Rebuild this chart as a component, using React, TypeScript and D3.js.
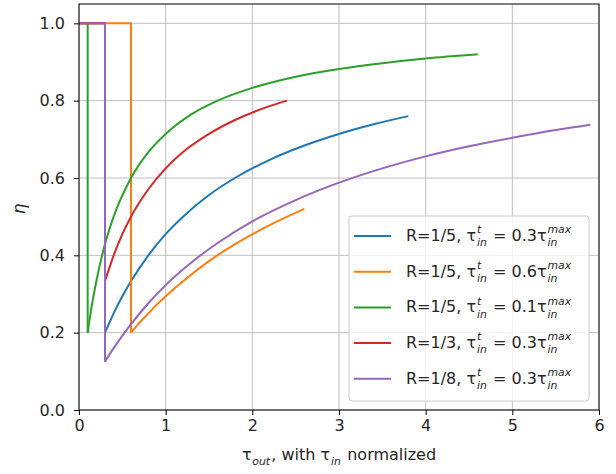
import React, { useEffect, useRef } from 'react';
import * as d3 from 'd3';

// [tau_out, eta] after the drop
const blueCurve: [number, number][] = [
  [0.3, 0.2], [0.4, 0.25], [0.5, 0.294], [0.6, 0.333], [0.8, 0.4], [1.0, 0.455], [1.2, 0.5],
  [1.5, 0.556], [1.8, 0.6], [2.2, 0.647], [2.6, 0.684], [3.0, 0.714], [3.4, 0.739], [3.8, 0.76],
];
const orangeCurve: [number, number][] = [
  [0.6, 0.2], [0.7, 0.226], [0.8, 0.25], [1.0, 0.294], [1.2, 0.333], [1.5, 0.385],
  [1.8, 0.429], [2.2, 0.478], [2.6, 0.52],
];
const greenCurve: [number, number][] = [
  [0.1, 0.2], [0.15, 0.273], [0.2, 0.333], [0.3, 0.429], [0.4, 0.5], [0.6, 0.6], [0.8, 0.667],
  [1.0, 0.714], [1.3, 0.765], [1.6, 0.8], [2.0, 0.833], [2.5, 0.862], [3.0, 0.882],
  [3.5, 0.897], [4.0, 0.909], [4.6, 0.92],
];
const redCurve: [number, number][] = [
  [0.3, 0.333], [0.4, 0.4], [0.5, 0.455], [0.6, 0.5], [0.8, 0.571], [1.0, 0.625],
  [1.2, 0.667], [1.5, 0.714], [1.8, 0.75], [2.1, 0.778], [2.4, 0.8],
];
const purpleCurve: [number, number][] = [
  [0.3, 0.125], [0.4, 0.16], [0.6, 0.222], [0.8, 0.276], [1.0, 0.323], [1.3, 0.382],
  [1.6, 0.432], [2.0, 0.488], [2.5, 0.543], [3.0, 0.588], [3.5, 0.625], [4.0, 0.656],
  [4.5, 0.682], [5.0, 0.704], [5.5, 0.724], [5.9, 0.738],
];

// R label, tau_in^t multiplier (step ends at this x with eta = 1)
const seriesR = ['1/5', '1/5', '1/5', '1/3', '1/8'];
const seriesTau = ['0.3', '0.6', '0.1', '0.3', '0.3'];
const seriesStep = [0.3, 0.6, 0.1, 0.3, 0.3];
const seriesCurves = [blueCurve, orangeCurve, greenCurve, redCurve, purpleCurve];
const colors = ['#1f77b4', '#ff7f0e', '#2ca02c', '#d62728', '#9467bd'];

const xTicks = [0, 1, 2, 3, 4, 5, 6];
const yTicks = [0, 0.2, 0.4, 0.6, 0.8, 1.0];

const FONT = '"DejaVu Sans", sans-serif';
const FS = 16;

type Piece = { t: string; sub?: string; sup?: string; italic?: boolean };

// lays out text with stacked sub/superscripts, returns total width
const drawMath = (g: any, pieces: Piece[], x: number, y: number, size: number) => {
  let cx = x;
  const small = size * 0.68;
  pieces.forEach((p) => {
    const t = g.append('text').attr('x', cx).attr('y', y)
      .attr('font-family', FONT).attr('font-size', size).attr('fill', '#262626')
      .style('white-space', 'pre')
      .style('font-style', p.italic ? 'italic' : 'normal').text(p.t);
    cx += (t.node() as SVGTextElement).getComputedTextLength();
    let w = 0;
    if (p.sub) {
      const s = g.append('text').attr('x', cx + 0.8).attr('y', y + size * 0.33)
        .attr('font-family', FONT).attr('font-size', small).attr('fill', '#262626')
        .style('font-style', 'italic').text(p.sub);
      w = Math.max(w, (s.node() as SVGTextElement).getComputedTextLength());
    }
    if (p.sup) {
      const s = g.append('text').attr('x', cx + 0.8).attr('y', y - size * 0.48)
        .attr('font-family', FONT).attr('font-size', small).attr('fill', '#262626')
        .style('font-style', 'italic').text(p.sup);
      w = Math.max(w, (s.node() as SVGTextElement).getComputedTextLength());
    }
    if (w > 0) cx += w + 2;
  });
  return cx - x;
};

const Chart = () => {
  const ref = useRef<SVGSVGElement>(null);

  useEffect(() => {
    const svg = d3.select(ref.current);
    svg.selectAll('*').remove();

    const margin = { top: 4, left: 79 };
    const width = 520;
    const height = 406;

    const x = d3.scaleLinear().domain([0, 6]).range([0, width]);
    const y = d3.scaleLinear().domain([0, 1.05]).range([height, 0]);

    const g = svg.append('g').attr('transform', `translate(${margin.left},${margin.top})`);

    // grid
    g.selectAll('.gx').data(xTicks).enter().append('line')
      .attr('x1', (d) => x(d)).attr('x2', (d) => x(d)).attr('y1', 0).attr('y2', height)
      .attr('stroke', '#b0b0b0').attr('stroke-width', 0.8);
    g.selectAll('.gy').data(yTicks).enter().append('line')
      .attr('y1', (d) => y(d)).attr('y2', (d) => y(d)).attr('x1', 0).attr('x2', width)
      .attr('stroke', '#b0b0b0').attr('stroke-width', 0.8);

    // lines
    const curveLine = d3.line<[number, number]>()
      .x((d) => x(d[0])).y((d) => y(d[1])).curve(d3.curveMonotoneX);
    const stepLine = d3.line<[number, number]>().x((d) => x(d[0])).y((d) => y(d[1]));

    seriesCurves.forEach((pts, i) => {
      const t = seriesStep[i];
      const step: [number, number][] = [[0, 1], [t, 1], [t, pts[0][1]]];
      g.append('path').attr('d', stepLine(step)).attr('fill', 'none')
        .attr('stroke', colors[i]).attr('stroke-width', 2).attr('stroke-linejoin', 'round');
      g.append('path').attr('d', curveLine(pts)).attr('fill', 'none')
        .attr('stroke', colors[i]).attr('stroke-width', 2);
    });

    // spines
    g.append('rect').attr('width', width).attr('height', height)
      .attr('fill', 'none').attr('stroke', '#000').attr('stroke-width', 1);

    // axes
    const xAxis = g.append('g').attr('transform', `translate(0,${height})`)
      .call(d3.axisBottom(x).tickValues(xTicks).tickFormat(d3.format('d')).tickSizeOuter(0).tickSize(5).tickPadding(5));
    const yAxis = g.append('g')
      .call(d3.axisLeft(y).tickValues(yTicks).tickFormat(d3.format('.1f')).tickSizeOuter(0).tickSize(5).tickPadding(9));
    [xAxis, yAxis].forEach((a) => {
      a.select('.domain').remove();
      a.selectAll('text').attr('font-family', FONT).attr('font-size', FS).attr('fill', '#262626');
    });

    // axis labels
    const xl = svg.append('g');
    const tmp = svg.append('g').attr('opacity', 0);
    const xPieces: Piece[] = [{ t: 'τ', sub: 'out' }, { t: ', with τ', sub: 'in' }, { t: ' normalized' }];
    const wx = drawMath(tmp, xPieces, 0, 0, FS);
    tmp.remove();
    drawMath(xl, xPieces, margin.left + width / 2 - wx / 2, 460, FS);

    svg.append('text').attr('transform', `translate(25,${margin.top + y(0.52)}) rotate(-90)`)
      .attr('text-anchor', 'middle').attr('font-family', FONT).attr('font-size', 17)
      .style('font-style', 'italic').attr('fill', '#262626').text('η');

    // legend
    const leg = svg.append('g');
    leg.append('rect').attr('x', 349).attr('y', 216).attr('width', 240).attr('height', 185)
      .attr('rx', 3).attr('fill', 'white').attr('fill-opacity', 0.8)
      .attr('stroke', '#cccccc').attr('stroke-width', 1);
    colors.forEach((c, i) => {
      const cy = 236 + i * 35.7;
      leg.append('line').attr('x1', 354).attr('x2', 391).attr('y1', cy).attr('y2', cy)
        .attr('stroke', c).attr('stroke-width', 2);
      drawMath(leg, [
        { t: `R=${seriesR[i]}, τ`, sub: 'in', sup: 't' },
        { t: ` = ${seriesTau[i]}τ`, sub: 'in', sup: 'max' },
      ], 406, cy + 5, FS);
    });
  }, []);

  return <svg ref={ref} width={616} height={474} style={{ position: 'absolute', left: 0, top: 0 }} />;
};

export default function App() {
  return <Chart />;
}
